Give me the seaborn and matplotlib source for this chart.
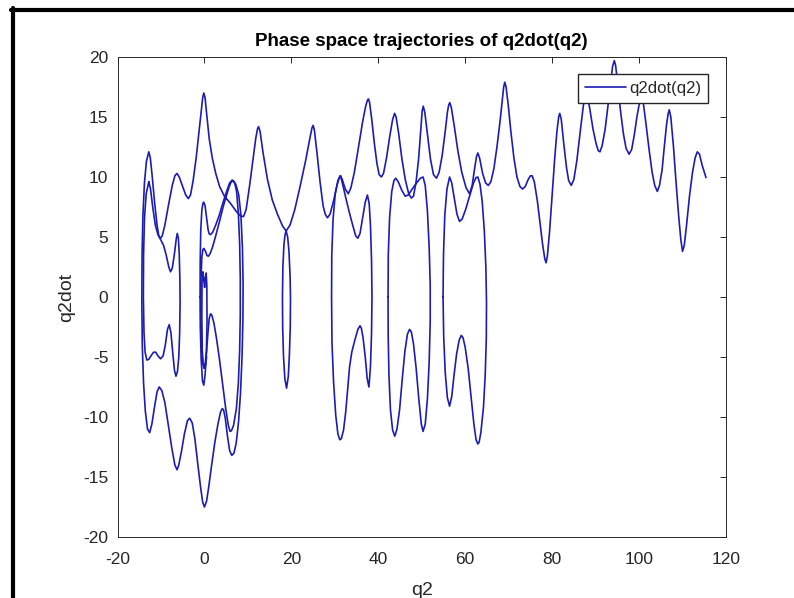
import matplotlib
matplotlib.use("Agg")
import matplotlib.pyplot as plt
from matplotlib.lines import Line2D
import pandas as pd
import seaborn as sns

# Phase portrait q2dot against q2.
# Each piece is one stretch of the trajectory (they touch where the curves meet).

# inner spiral -> big loop round q2 = 0 -> upper branch running off to the right
spiral_q2 = [0.5, 0.2, -0.1, -0.4, -0.7, -0.85, -0.8, -0.6, -0.35, -0.15, 0.2, 0.6, 0.9, 1.3,
             1.9, 2.6, 3.4, 4.3, 5.1, 5.7, 6.1, 6.5, 7.2, 7.9, 8.4, 8.75, 8.9, 8.85, 8.65,
             8.3, 7.85, 7.3, 6.8, 6.3, 5.8, 5.3, 4.8, 4.4, 4.1, 3.7, 3.1, 2.4, 1.7, 1.0, 0.5,
             0.0, -0.4, -0.9, -1.5, -2.2, -2.8, -3.4, -3.9, -4.6, -5.3, -5.9, -6.3, -6.8,
             -7.5, -8.3, -9.1, -9.8, -10.4, -10.9, -11.5, -12.1, -12.6, -13.1, -13.6, -14.0,
             -14.3, -14.4, -14.35, -14.15, -13.8, -13.35, -12.8, -12.45, -12.0, -11.5, -10.9,
             -10.5, -10.1, -9.7, -9.1, -8.3, -7.4, -6.8, -6.3, -5.8, -5.0, -4.3, -3.7, -3.2,
             -2.6, -1.9, -1.3, -0.7, -0.4, -0.15, 0.15, 0.5, 1.1, 1.8, 2.6, 3.5, 4.6, 6.0, 7.4,
             8.3, 9.0, 9.6, 10.4, 11.2, 11.8, 12.2, 12.45, 12.8, 13.5, 14.5, 15.6, 16.8, 18.0,
             18.8, 19.7, 20.8, 22.0, 23.3, 24.3, 24.75, 25.0, 25.3, 25.9, 26.6, 27.3, 27.8,
             28.3, 28.9, 29.7, 30.5, 31.0, 31.3, 31.7, 32.4, 33.1, 33.7, 34.5, 35.5, 36.4,
             37.1, 37.5, 37.75, 38.0, 38.5, 39.1, 39.7, 40.2, 40.7, 41.2, 41.9, 42.6, 43.3,
             43.75, 44.1, 44.7, 45.4, 46.2, 47.0, 47.6, 48.1, 48.7, 49.3, 49.8, 50.1, 50.35,
             50.7, 51.3, 52.0, 52.7, 53.4, 54.0, 54.7, 55.4, 55.9, 56.2, 56.45, 56.8, 57.5,
             58.3, 59.2, 60.2, 61.0, 61.6, 62.2, 62.6, 62.9, 63.3, 64.0, 64.7, 65.3, 65.9,
             66.6, 67.3, 68.0, 68.5, 68.85, 69.1, 69.4, 69.9, 70.5, 71.2, 71.9, 72.6, 73.2,
             73.8, 74.5, 75.0, 75.4, 75.9, 76.6, 77.2, 77.8, 78.3, 78.6, 78.9, 79.4, 80.0,
             80.6, 81.1, 81.5, 81.75, 82.1, 82.7, 83.3, 83.8, 84.4, 85.0, 85.7, 86.4, 87.1,
             87.5, 87.8, 88.1, 88.7, 89.4, 90.1, 90.6, 91.0, 91.5, 92.2, 92.9, 93.5, 93.9,
             94.3, 94.6, 95.1, 95.7, 96.4, 97.0, 97.7, 98.3, 98.9, 99.5, 100.0, 100.4, 100.7,
             101.0, 101.6, 102.3, 103.0, 103.6, 104.2, 104.7, 105.3, 105.8, 106.3, 106.7,
             106.95, 107.3, 107.9, 108.5, 109.1, 109.6, 110.0, 110.4, 110.9, 111.6, 112.3,
             112.9, 113.4, 113.9, 114.5, 115.0, 115.4]
spiral_q2dot = [-5.0, -5.8, -5.95, -5.5, -3.8, -1.0, 1.5, 3.3, 3.95, 4.05, 3.85, 3.45, 3.4,
                3.6, 4.2, 5.1, 6.2, 7.5, 8.5, 9.2, 9.55, 9.7, 9.4, 8.5, 6.8, 4.0, 1.0, -2.0,
                -5.0, -8.0, -10.4, -12.2, -13.0, -13.2, -12.8, -11.6, -10.1, -9.4, -9.3,
                -9.6, -10.6, -12.1, -13.9, -15.8, -17.0, -17.5, -17.1, -15.8, -14.0, -11.8,
                -10.5, -10.1, -10.3, -11.4, -12.9, -14.0, -14.4, -14.0, -12.6, -10.7, -8.8,
                -7.8, -7.5, -7.9, -9.2, -10.6, -11.3, -11.0, -9.5, -7.2, -4.0, -0.5, 3.5,
                6.8, 9.5, 11.3, 12.1, 11.6, 10.0, 8.0, 6.0, 5.1, 4.9, 5.1, 6.0, 7.6, 9.3, 10.1,
                10.3, 10.0, 9.2, 8.5, 8.2, 8.5, 9.7, 11.6, 13.6, 15.6, 16.6, 17.0, 16.6, 15.3,
                13.2, 11.6, 10.3, 9.2, 8.4, 7.8, 7.1, 6.75, 6.7, 7.3, 9.3, 11.5, 13.2, 14.0,
                14.2, 13.8, 12.0, 9.8, 8.1, 6.9, 5.9, 5.5, 6.0, 7.3, 9.2, 11.4, 13.3, 14.1,
                14.3, 13.9, 12.0, 9.6, 7.6, 6.9, 6.6, 6.9, 8.0, 9.3, 9.95, 10.1, 9.8, 9.0,
                8.6, 9.1, 10.4, 12.6, 14.6, 15.9, 16.4, 16.5, 16.2, 14.8, 12.8, 11.1, 10.2,
                10.0, 10.3, 11.6, 13.3, 14.8, 15.3, 15.0, 13.6, 11.6, 9.8, 8.6, 8.25, 8.4,
                9.6, 11.6, 14.0, 15.5, 15.9, 15.4, 13.6, 11.5, 10.2, 9.9, 10.4, 11.8, 13.8,
                15.4, 16.0, 16.2, 15.8, 14.2, 12.2, 10.4, 9.1, 8.6, 9.3, 10.8, 11.7, 12.0,
                11.6, 10.3, 9.5, 9.3, 9.6, 10.7, 12.5, 14.6, 16.3, 17.5, 17.9, 17.5, 16.0,
                13.8, 11.6, 10.0, 9.2, 9.0, 9.2, 9.8, 10.1, 10.1, 9.6, 8.0, 6.2, 4.4, 3.2,
                2.85, 3.4, 5.4, 8.5, 11.6, 13.8, 15.0, 15.3, 14.8, 12.7, 10.8, 9.7, 9.3, 9.8,
                11.4, 13.6, 15.7, 16.8, 17.2, 16.9, 15.6, 14.0, 12.8, 12.2, 12.1, 12.6, 14.0,
                16.1, 18.0, 19.2, 19.7, 19.3, 17.7, 15.6, 13.6, 12.4, 11.9, 12.3, 13.5, 15.0,
                16.0, 16.4, 16.5, 16.1, 14.4, 12.3, 10.4, 9.3, 8.8, 9.3, 10.6, 12.5, 14.3,
                15.3, 15.6, 15.0, 12.6, 9.6, 6.8, 4.8, 3.8, 4.3, 5.9, 8.4, 10.4, 11.6, 12.1,
                11.9, 11.0, 10.4, 9.95]

# tiny oscillations right at q2 = 0
tiny_q2 = [-0.5, -0.6, -0.55, -0.35, -0.15, 0.05, 0.2, 0.4, 0.55, 0.6, 0.45, 0.1, -0.3, -0.5]
tiny_q2dot = [-4.5, -1.5, 1.2, 2.1, 1.4, 0.8, 1.6, 2.0, 1.0, -2.0, -4.5, -5.9, -5.5, -4.5]

# loop between q2 = -1 and q2 = 8
mid_q2 = [-1.0, -0.97, -0.85, -0.6, -0.35, -0.15, 0.15, 0.5, 0.85, 1.1, 1.4, 1.9, 2.6, 3.4,
          4.3, 5.1, 5.8, 6.4, 6.9, 7.4, 7.8, 8.1, 8.25, 8.25, 8.1, 7.8, 7.35, 6.7, 6.2, 5.9,
          5.5, 4.9, 4.2, 3.5, 2.8, 2.2, 1.7, 1.4, 1.1, 0.8, 0.45, 0.15, -0.15, -0.45, -0.75,
          -0.95, -1.0]
mid_q2dot = [0.0, 3.0, 5.5, 7.2, 7.8, 7.9, 7.6, 6.6, 5.6, 5.25, 5.2, 5.4, 6.0, 6.8, 7.9, 8.8,
             9.5, 9.75, 9.6, 8.8, 7.0, 4.5, 1.5, -1.5, -4.5, -7.2, -9.3, -10.7, -11.15, -11.2,
             -10.7, -9.3, -7.3, -5.3, -3.5, -2.2, -1.5, -1.4, -1.8, -3.0, -4.8, -6.5, -7.35,
             -7.0, -5.2, -2.5, 0.0]

# small loop on the left, q2 = -14 .. -5.6
left_q2 = [-12.8, -12.4, -11.9, -11.3, -10.7, -10.1, -9.4, -8.8, -8.2, -7.8, -7.4, -6.9, -6.5,
           -6.25, -6.0, -5.8, -5.65, -5.6, -5.7, -5.9, -6.2, -6.55, -6.9, -7.3, -7.7, -8.1,
           -8.5, -9.0, -9.5, -10.1, -10.7, -11.2, -11.7, -12.3, -12.8, -13.25, -13.65, -13.9,
           -14.05, -14.0, -13.8, -13.4, -12.8]
left_q2dot = [9.6, 9.0, 7.5, 6.0, 5.2, 4.8, 4.3, 3.5, 2.5, 2.1, 2.4, 3.6, 4.8, 5.3, 4.9, 3.6,
              1.5, -0.5, -3.0, -5.0, -6.2, -6.6, -6.1, -4.6, -3.0, -2.3, -2.7, -4.0, -4.9,
              -5.15, -4.9, -4.6, -4.6, -4.9, -5.2, -5.25, -4.6, -3.0, 0.0, 3.5, 6.5, 8.6, 9.6]

# narrow loop at q2 ~ 19
loop19_q2 = [18.8, 19.15, 19.45, 19.7, 19.8, 19.75, 19.55, 19.3, 18.9, 18.5, 18.2, 18.0, 17.95,
             18.05, 18.3, 18.55, 18.8]
loop19_q2dot = [5.5, 5.0, 3.8, 1.8, 0.0, -2.5, -4.8, -6.6, -7.6, -6.8, -5.0, -2.5, 0.0, 2.5,
                4.4, 5.2, 5.5]

# loop q2 = 29 .. 38.5
loop33_q2 = [31.3, 31.8, 32.5, 33.3, 34.1, 34.8, 35.3, 35.8, 36.4, 37.0, 37.5, 37.9, 38.2,
             38.45, 38.55, 38.45, 38.2, 37.85, 37.45, 37.0, 36.5, 36.1, 35.8, 35.3, 34.6, 33.9,
             33.4, 33.0, 32.5, 32.0, 31.5, 31.15, 30.7, 30.2, 29.7, 29.35, 29.25, 29.3, 29.6,
             30.1, 30.7, 31.3]
loop33_q2dot = [10.1, 9.4, 8.3, 7.1, 6.0, 5.1, 4.9, 5.3, 6.6, 7.9, 8.5, 7.8, 6.0, 3.0, 0.0,
                -3.0, -5.8, -7.5, -6.8, -5.0, -3.4, -2.6, -2.4, -2.7, -3.6, -4.6, -5.8, -7.5,
                -9.6, -11.1, -11.8, -11.9, -11.4, -9.8, -7.0, -3.8, 0.0, 3.5, 6.5, 8.6, 9.7,
                10.1]

# loop q2 = 42 .. 52
loop47_q2 = [42.25, 42.3, 42.6, 43.1, 43.6, 44.0, 44.6, 45.4, 46.2, 46.9, 47.8, 48.8, 49.7,
             50.3, 50.8, 51.3, 51.7, 51.95, 51.95, 51.7, 51.3, 50.8, 50.3, 49.9, 49.3, 48.7,
             48.1, 47.6, 47.2, 46.7, 46.1, 45.5, 44.9, 44.3, 43.8, 43.3, 42.8, 42.45, 42.28,
             42.25]
loop47_q2dot = [0.0, 3.5, 6.6, 8.8, 9.7, 9.9, 9.6, 8.9, 8.4, 8.5, 9.0, 9.5, 9.9, 10.0, 9.3,
                7.2, 4.2, 1.0, -2.0, -5.5, -8.5, -10.6, -11.2, -10.6, -8.4, -5.9, -3.9, -2.9,
                -2.7, -3.1, -4.6, -6.9, -9.4, -11.0, -11.6, -11.1, -9.4, -6.5, -3.2, 0.0]

# loop q2 = 55 .. 65
loop60_q2 = [54.9, 55.0, 55.3, 55.8, 56.4, 56.9, 57.5, 58.1, 58.7, 59.3, 60.1, 61.0, 61.9,
             62.5, 62.9, 63.4, 63.9, 64.4, 64.75, 64.9, 64.85, 64.6, 64.2, 63.6, 63.2, 62.9,
             62.5, 62.0, 61.4, 60.7, 60.0, 59.5, 59.1, 58.6, 58.0, 57.4, 56.9, 56.4, 55.9,
             55.4, 55.05, 54.9]
loop60_q2dot = [0.0, 3.5, 6.8, 9.0, 10.0, 9.5, 8.2, 6.9, 6.3, 6.5, 7.3, 8.4, 9.5, 9.95, 10.0,
                9.4, 8.0, 5.5, 2.5, -0.5, -3.5, -6.5, -9.2, -11.3, -12.1, -12.25, -11.9, -10.6,
                -8.5, -6.0, -4.2, -3.4, -3.2, -3.6, -4.8, -6.6, -8.3, -9.1, -8.4, -6.3, -3.3,
                0.0]

pieces = {
    "spiral": (spiral_q2, spiral_q2dot),
    "tiny": (tiny_q2, tiny_q2dot),
    "mid": (mid_q2, mid_q2dot),
    "left": (left_q2, left_q2dot),
    "loop19": (loop19_q2, loop19_q2dot),
    "loop33": (loop33_q2, loop33_q2dot),
    "loop47": (loop47_q2, loop47_q2dot),
    "loop60": (loop60_q2, loop60_q2dot),
}
df = pd.concat(
    [pd.DataFrame({"q2": q, "q2dot": qd, "piece": name}) for name, (q, qd) in pieces.items()],
    ignore_index=True,
)

sns.set_style("white")
plt.rcParams["font.family"] = ["Liberation Sans", "DejaVu Sans"]
plt.rcParams["axes.unicode_minus"] = False

W, H = 794, 598
fig = plt.figure(figsize=(W / 100, H / 100), dpi=100)
ax = fig.add_axes([117.5 / W, 61 / H, 608.5 / W, 480 / H])

line_col = "#1c1cb4"
sns.lineplot(data=df, x="q2", y="q2dot", units="piece", estimator=None, sort=False,
             color=line_col, linewidth=1.2, legend=False, ax=ax)
for ln in ax.get_lines():
    ln.set_solid_joinstyle("round")

ax.set_xlim(-20, 120)
ax.set_ylim(-20, 20)
ax.set_xticks(range(-20, 121, 20))
ax.set_yticks(range(-20, 21, 5))

grey = "#262626"
for s in ax.spines.values():
    s.set_visible(True)
    s.set_color(grey)
    s.set_linewidth(0.7)
ax.tick_params(direction="in", length=4.3, width=0.7, top=True, right=True,
               colors=grey, labelsize=12.5)
ax.tick_params(axis="y", pad=6.5)
ax.tick_params(axis="x", pad=10.5)

ax.set_xlabel("q2", fontsize=14, color=grey, labelpad=11)
ax.set_ylabel("q2dot", fontsize=14, color=grey, labelpad=6)
ax.set_title("Phase space trajectories of q2dot(q2)", fontsize=13.5, fontweight="bold",
             color="black", pad=8)

ax.legend([Line2D([], [], color=line_col, linewidth=1.2)], ["q2dot(q2)"],
          loc="upper right", bbox_to_anchor=(708.3 / W, 1 - 74.3 / H),
          bbox_transform=fig.transFigure, borderaxespad=0, fontsize=12,
          handlelength=2.5, handletextpad=0.2, borderpad=0.4, fancybox=False,
          framealpha=1, edgecolor=grey, labelcolor=grey)

# black frame of the original screenshot (top and left edges only)
fig.add_artist(Line2D([13 / W, 13 / W], [0, 1 - 8 / H], transform=fig.transFigure,
                      color="black", linewidth=3))
fig.add_artist(Line2D([11 / W, 1], [1 - 10 / H, 1 - 10 / H], transform=fig.transFigure,
                      color="black", linewidth=3))

fig.savefig("out.png", dpi=100)
